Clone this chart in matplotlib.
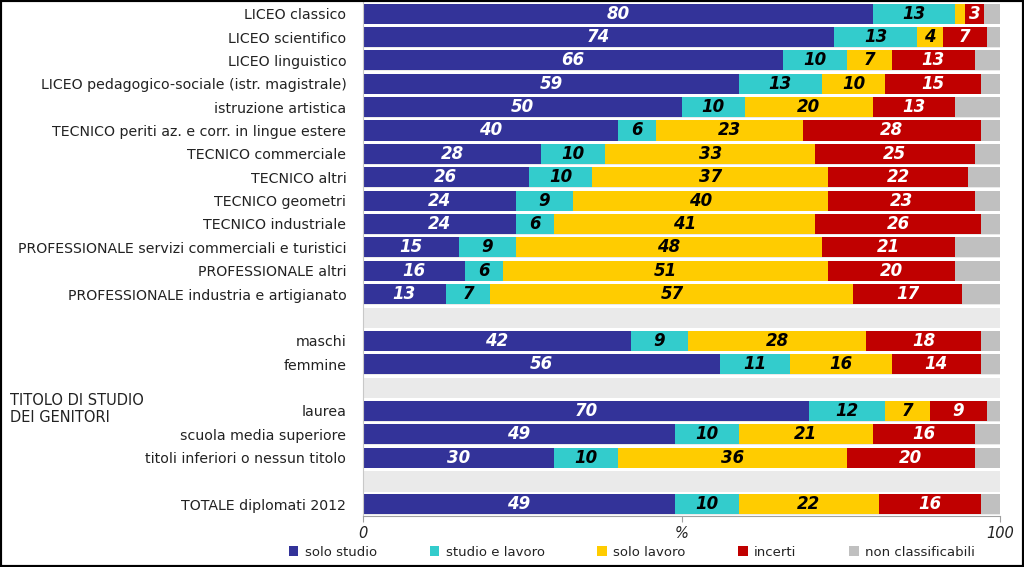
import numpy as np
import matplotlib.pyplot as plt
from matplotlib.patches import Rectangle

# dati (percentuali)
categorie = ['LICEO classico', 'LICEO scientifico', 'LICEO linguistico',
             'LICEO pedagogico-sociale (istr. magistrale)', 'istruzione artistica',
             'TECNICO periti az. e corr. in lingue estere', 'TECNICO commerciale',
             'TECNICO altri', 'TECNICO geometri', 'TECNICO industriale',
             'PROFESSIONALE servizi commerciali e turistici', 'PROFESSIONALE altri',
             'PROFESSIONALE industria e artigianato',
             'maschi', 'femmine',
             'laurea', 'scuola media superiore', 'titoli inferiori o nessun titolo',
             'TOTALE diplomati 2012']
gruppi = [13, 2, 3, 1]  # righe per gruppo, separati da una riga vuota

solo_studio = [80, 74, 66, 59, 50, 40, 28, 26, 24, 24, 15, 16, 13, 42, 56, 70, 49, 30, 49]
studio_lavoro = [13, 13, 10, 13, 10, 6, 10, 10, 9, 6, 9, 6, 7, 9, 11, 12, 10, 10, 10]
solo_lavoro = [1.5, 4, 7, 10, 20, 23, 33, 37, 40, 41, 48, 51, 57, 28, 16, 7, 21, 36, 22]
incerti = [3, 7, 13, 15, 13, 28, 25, 22, 23, 26, 21, 20, 17, 18, 14, 9, 16, 20, 16]
non_class = [2.5, 2, 4, 3, 7, 3, 4, 5, 4, 3, 7, 7, 6, 3, 3, 2, 4, 4, 3]

serie = ['solo studio', 'studio e lavoro', 'solo lavoro', 'incerti', 'non classificabili']
colori = ['#333399', '#33CCCC', '#FFCC00', '#C00000', '#C0C0C0']
col_testo = ['white', 'black', 'black', 'white', None]

# posizioni delle righe con spazi tra i gruppi
pos = []
r = 0
for g in gruppi:
    for i in range(g):
        pos.append(r)
        r += 1
    r += 1
n_righe = r - 1
pos = np.array(pos)

fig = plt.figure(figsize=(10.24, 5.67), dpi=100)
ax = fig.add_axes([363/1024, 1-516/567, 637/1024, 514/567])
ax.set_facecolor('#EAEAEA')

valori = [solo_studio, studio_lavoro, solo_lavoro, incerti, non_class]
left = np.zeros(len(categorie))
for k in range(5):
    v = np.array(valori[k], dtype=float)
    ax.barh(pos, v, left=left, height=0.86, color=colori[k], label=serie[k], zorder=2)
    if col_testo[k]:
        for y, x0, w in zip(pos, left, v):
            if w >= 2:
                ax.text(x0 + w/2, y, '%d' % w, ha='center', va='center',
                        color=col_testo[k], fontsize=12, fontweight='bold',
                        fontstyle='italic', zorder=3)
    left += v

for b in np.arange(-0.5, n_righe + 0.6, 1):
    ax.axhline(b, color='white', lw=2.2, zorder=1)

ax.set_xlim(0, 100)
ax.set_ylim(n_righe - 0.5, -0.5)
ax.set_yticks(pos)
ax.set_yticklabels(categorie, fontsize=10.2, color='#222222')
ax.tick_params(axis='y', length=0, pad=12)
ax.set_xticks([0, 50, 100])
ax.set_xticklabels(['0', '%', '100'], fontsize=10.5, fontstyle='italic', color='#222222')
ax.tick_params(axis='x', length=4, color='#A0A0A0', pad=3)
for s in ['top', 'right']:
    ax.spines[s].set_visible(False)
ax.spines['bottom'].set_color('#A0A0A0')
ax.spines['left'].set_color('#C8C8C8')

fig.text(10/1024, 1-409/567, 'TITOLO DI STUDIO\nDEI GENITORI', ha='left', va='center',
         fontsize=10.5, color='#222222', linespacing=1.1)

fig.legend(loc='center', bbox_to_anchor=(632/1024, 1-552/567), ncol=5, frameon=False,
           fontsize=9.5, handlelength=0.7, handleheight=0.7, columnspacing=4.0,
           handletextpad=0.5, labelcolor='#222222')

fig.patches.append(Rectangle((0, 0), 1, 1, transform=fig.transFigure, fill=False,
                             edgecolor='black', lw=3, zorder=10))

fig.savefig('out.png', dpi=100)
